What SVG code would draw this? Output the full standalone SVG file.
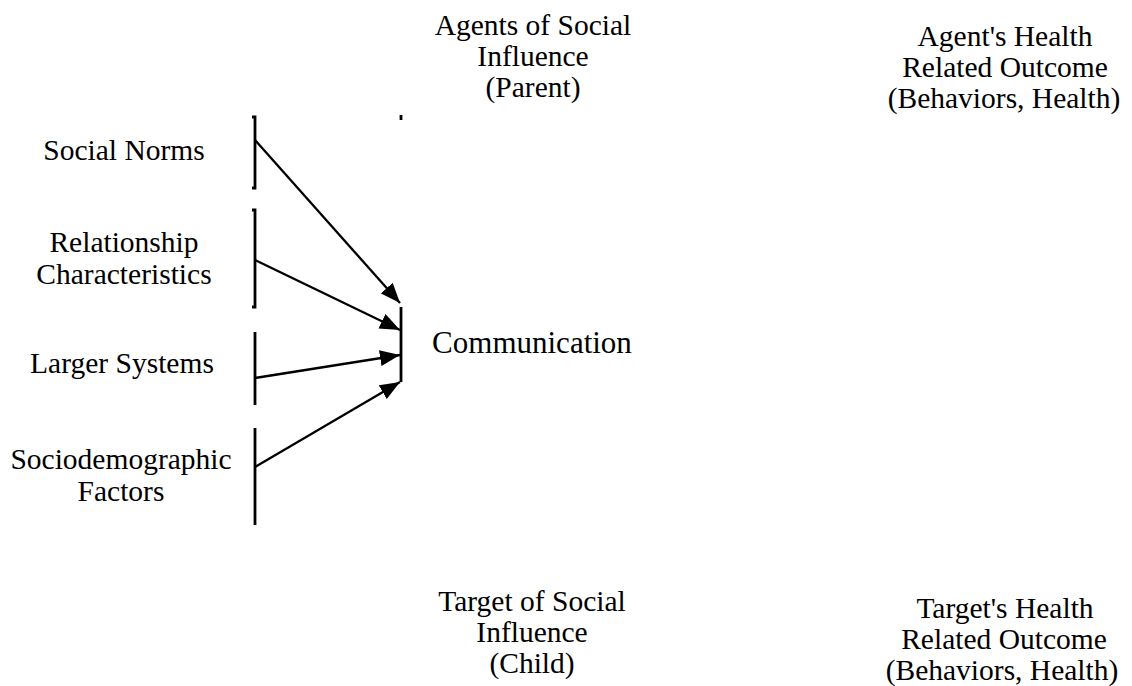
<svg xmlns="http://www.w3.org/2000/svg" width="1132" height="686" viewBox="0 0 1132 686">
<style>
text{font-family:"Liberation Serif","Times New Roman",serif;fill:#000;text-anchor:middle;font-size:29.5px}
.big{font-size:31px}
.bar{fill:none;stroke:#000;stroke-width:2.8}
.arr{fill:none;stroke:#000;stroke-width:2.3}
</style>
<defs>
<marker id="ah" markerUnits="userSpaceOnUse" markerWidth="20" markerHeight="16" refX="20" refY="8" orient="auto">
<path d="M0,0 L20,8 L0,16 Z" fill="#000"/>
</marker>
</defs>
<rect width="1132" height="686" fill="#fff"/>
<g id="agent">
<text x="533" y="35">Agents of Social</text>
<text x="533" y="66">Influence</text>
<text x="533" y="97">(Parent)</text>
</g>
<g id="agent-outcome">
<text x="1005" y="46">Agent's Health</text>
<text x="1005" y="77">Related Outcome</text>
<text x="1004" y="108">(Behaviors, Health)</text>
</g>
<g id="social-norms">
<text x="124" y="160">Social Norms</text>
<path class="bar" d="M252,117 H255 V188 H252"/>
</g>
<g id="relationship">
<text x="124" y="252">Relationship</text>
<text x="124" y="284">Characteristics</text>
<path class="bar" d="M252,210 H255 V307 H252"/>
</g>
<g id="larger-systems">
<text x="122" y="373">Larger Systems</text>
<path class="bar" d="M255,332 V405"/>
</g>
<g id="sociodemographic">
<text x="121" y="469">Sociodemographic</text>
<text x="121" y="501">Factors</text>
<path class="bar" d="M255,428 V525"/>
</g>
<g id="communication">
<path class="bar" d="M401,307 V382"/>
<path class="bar" d="M401,115 V120"/>
<text class="big" x="532" y="353">Communication</text>
</g>
<g id="target">
<text x="532" y="611">Target of Social</text>
<text x="532" y="642">Influence</text>
<text x="532" y="673">(Child)</text>
</g>
<g id="target-outcome">
<text x="1005" y="618">Target's Health</text>
<text x="1004" y="649">Related Outcome</text>
<text x="1002" y="680">(Behaviors, Health)</text>
</g>
<g id="connectors">
<line class="arr" x1="255" y1="140" x2="400" y2="303" marker-end="url(#ah)"/>
<line class="arr" x1="255" y1="260" x2="400" y2="330" marker-end="url(#ah)"/>
<line class="arr" x1="255" y1="378" x2="400" y2="355" marker-end="url(#ah)"/>
<line class="arr" x1="255" y1="467" x2="400" y2="382" marker-end="url(#ah)"/>
</g>
</svg>
